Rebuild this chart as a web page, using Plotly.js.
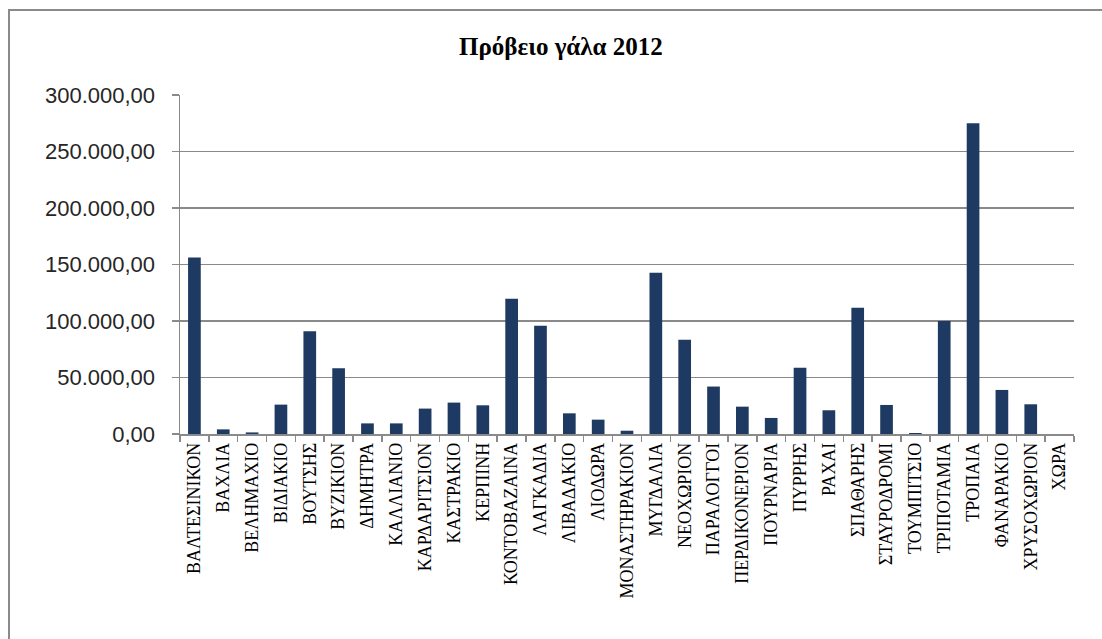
<!DOCTYPE html>
<html>
<head>
<meta charset="utf-8">
<script src="https://cdn.plot.ly/plotly-3.0.1.min.js"></script>
<style>
html,body{margin:0;padding:0;background:#fff;}
#chart{width:1102px;height:639px;}
#frame{position:absolute;left:8px;top:9px;width:1200px;height:800px;border-left:2px solid #8a8a8a;border-top:2px solid #8a8a8a;pointer-events:none;}
</style>
</head>
<body>
<div id="chart"></div>
<div id="frame"></div>
<script>
const chartTitle = "Πρόβειο γάλα 2012";
const villages = ["ΒΑΛΤΕΣΙΝΙΚΟΝ","ΒΑΧΛΙΑ","ΒΕΛΗΜΑΧΙΟ","ΒΙΔΙΑΚΙΟ","ΒΟΥΤΣΗΣ","ΒΥΖΙΚΙΟΝ","ΔΗΜΗΤΡΑ","ΚΑΛΛΙΑΝΙΟ","ΚΑΡΔΑΡΙΤΣΙΟΝ","ΚΑΣΤΡΑΚΙΟ","ΚΕΡΠΙΝΗ","ΚΟΝΤΟΒΑΖΑΙΝΑ","ΛΑΓΚΑΔΙΑ","ΛΙΒΑΔΑΚΙΟ","ΛΙΟΔΩΡΑ","ΜΟΝΑΣΤΗΡΑΚΙΟΝ","ΜΥΓΔΑΛΙΑ","ΝΕΟΧΩΡΙΟΝ","ΠΑΡΑΛΟΓΓΟΙ","ΠΕΡΔΙΚΟΝΕΡΙΟΝ","ΠΟΥΡΝΑΡΙΑ","ΠΥΡΡΗΣ","ΡΑΧΑΙ","ΣΠΑΘΑΡΗΣ","ΣΤΑΥΡΟΔΡΟΜΙ","ΤΟΥΜΠΙΤΣΙΟ","ΤΡΙΠΟΤΑΜΙΑ","ΤΡΟΠΑΙΑ","ΦΑΝΑΡΑΚΙΟ","ΧΡΥΣΟΧΩΡΙΟΝ","ΧΩΡΑ"];
const milk2012 = [156200,4100,1400,26000,91000,58200,9400,9400,22500,27800,25400,119800,95900,18300,12700,2900,142600,83400,42000,24200,14200,58600,21000,111800,25700,900,100000,275100,39000,26300,0];
const yTicks = [0,50000,100000,150000,200000,250000,300000];

const trace = {
  type: "bar",
  x: villages,
  y: milk2012,
  marker: {color: "#1f3a62", line: {width: 0}},
  hoverinfo: "x+y"
};

const layout = {
  width: 1102, height: 639,
  margin: {l: 180, r: 28, t: 95, b: 205, pad: 0},
  paper_bgcolor: "#fff", plot_bgcolor: "#fff",
  separators: ",.",
  showlegend: false,
  bargap: 0.56,
  title: {
    text: "<b>" + chartTitle + "</b>",
    font: {family: "Liberation Serif, Times New Roman, serif", size: 25, color: "#000"},
    xref: "container", x: 0.509, xanchor: "center",
    yref: "container", y: 0.928, yanchor: "middle"
  },
  xaxis: {
    type: "category",
    tickangle: -90,
    tickson: "boundaries",
    ticks: "outside", ticklen: 6, tickcolor: "#8a8a8a", tickwidth: 1.5,
    showline: true, linecolor: "#8a8a8a", linewidth: 1.5,
    showgrid: false,
    tickfont: {family: "Liberation Serif, Times New Roman, serif", size: 18, color: "#000"},
    automargin: false
  },
  yaxis: {
    range: [0, 300000],
    tickvals: yTicks,
    tickformat: ",.2f",
    ticks: "outside", ticklen: 7, tickcolor: "#8a8a8a", tickwidth: 1.5,
    ticklabelstandoff: 12,
    showline: true, linecolor: "#8a8a8a", linewidth: 1.5,
    showgrid: true, gridcolor: "#8a8a8a", gridwidth: 1.5,
    zeroline: false,
    tickfont: {family: "Liberation Sans, Arial, sans-serif", size: 22, color: "#262626"},
    automargin: false
  }
};

Plotly.newPlot("chart", [trace], layout, {displayModeBar: false, staticPlot: true});
</script>
</body>
</html>
